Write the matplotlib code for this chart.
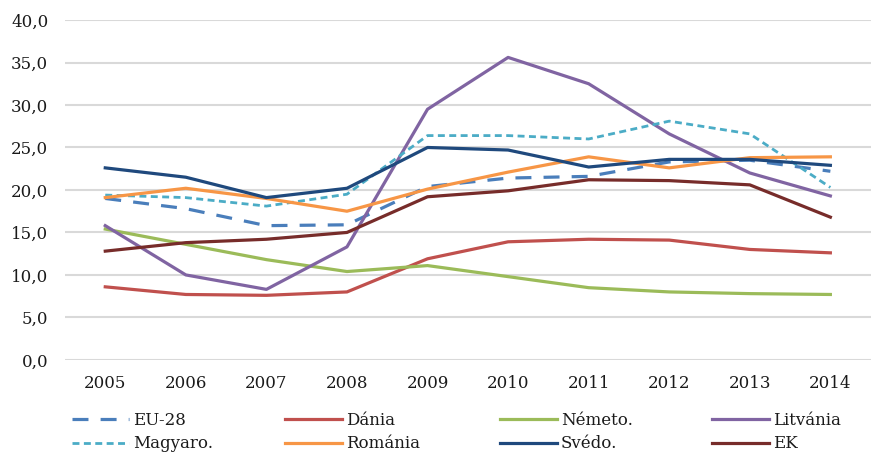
import matplotlib
matplotlib.use('Agg')
import matplotlib.pyplot as plt

plt.rcParams['font.family'] = ['DejaVu Serif']

years = ['2005', '2006', '2007', '2008', '2009', '2010', '2011', '2012', '2013', '2014']

eu28     = [19.0, 17.8, 15.8, 15.9, 20.4, 21.4, 21.6, 23.3, 23.5, 22.2]
dania    = [8.6, 7.7, 7.6, 8.0, 11.9, 13.9, 14.2, 14.1, 13.0, 12.6]
nemeto   = [15.4, 13.6, 11.8, 10.4, 11.1, 9.8, 8.5, 8.0, 7.8, 7.7]
litvania = [15.8, 10.0, 8.3, 13.3, 29.5, 35.6, 32.5, 26.6, 22.0, 19.3]
magyaro  = [19.4, 19.1, 18.1, 19.5, 26.4, 26.4, 26.0, 28.1, 26.6, 20.3]
romania  = [19.1, 20.2, 19.0, 17.5, 20.1, 22.1, 23.9, 22.6, 23.8, 23.9]
svedo    = [22.6, 21.5, 19.1, 20.2, 25.0, 24.7, 22.7, 23.6, 23.6, 22.9]
ek       = [12.8, 13.8, 14.2, 15.0, 19.2, 19.9, 21.2, 21.1, 20.6, 16.8]

yticks = [0, 5, 10, 15, 20, 25, 30, 35, 40]

fig = plt.figure(figsize=(8.71, 4.55), dpi=100)
ax = fig.add_axes([0.0746, 0.209, 0.925, 0.747])

x = range(len(years))
lw = 2.3
l_eu, = ax.plot(x, eu28, color='#4A7EBB', lw=lw, dashes=(5.0, 3.8), label='EU-28')
l_da, = ax.plot(x, dania, color='#C0504D', lw=lw, label='Dánia')
l_ne, = ax.plot(x, nemeto, color='#9BBB59', lw=lw, label='Németo.')
l_li, = ax.plot(x, litvania, color='#8064A2', lw=lw, label='Litvánia')
l_ma, = ax.plot(x, magyaro, color='#4BACC6', lw=2.0, dashes=(2.5, 1.6), label='Magyaro.')
l_ro, = ax.plot(x, romania, color='#F79646', lw=lw, label='Románia')
l_sv, = ax.plot(x, svedo, color='#1F497D', lw=lw, label='Svédo.')
l_ek, = ax.plot(x, ek, color='#772C2A', lw=lw, label='EK')

ax.set_xlim(-0.5, 9.5)
ax.set_ylim(0, 40)
ax.set_yticks(yticks)
ax.set_yticklabels([('%.1f' % v).replace('.', ',') for v in yticks])
ax.set_xticks(list(x))
ax.set_xticklabels(years)
ax.tick_params(axis='both', length=0, labelsize=12, colors='#1a1a1a')
ax.tick_params(axis='y', pad=12)
ax.tick_params(axis='x', pad=11)
ax.grid(axis='y', color='#D9D9D9', lw=1.5)
ax.set_axisbelow(True)
for s in ax.spines.values():
    s.set_visible(False)

# legend: 4 fixed-width columns like Excel
cols = [(l_eu, l_ma), (l_da, l_ro), (l_ne, l_sv), (l_li, l_ek)]
col_x = [72, 285, 500, 712]
for (h1, h2), px in zip(cols, col_x):
    lg = fig.legend(handles=[h1, h2], labels=[h1.get_label(), h2.get_label()],
                    loc='upper left', bbox_to_anchor=(px / 871, 1 - 412 / 455),
                    frameon=False, fontsize=12, handlelength=3.4,
                    handletextpad=0.25, labelspacing=0.38, borderpad=0,
                    borderaxespad=0)
    for t in lg.get_texts():
        t.set_color('#1a1a1a')

fig.savefig('out.png', dpi=100)
